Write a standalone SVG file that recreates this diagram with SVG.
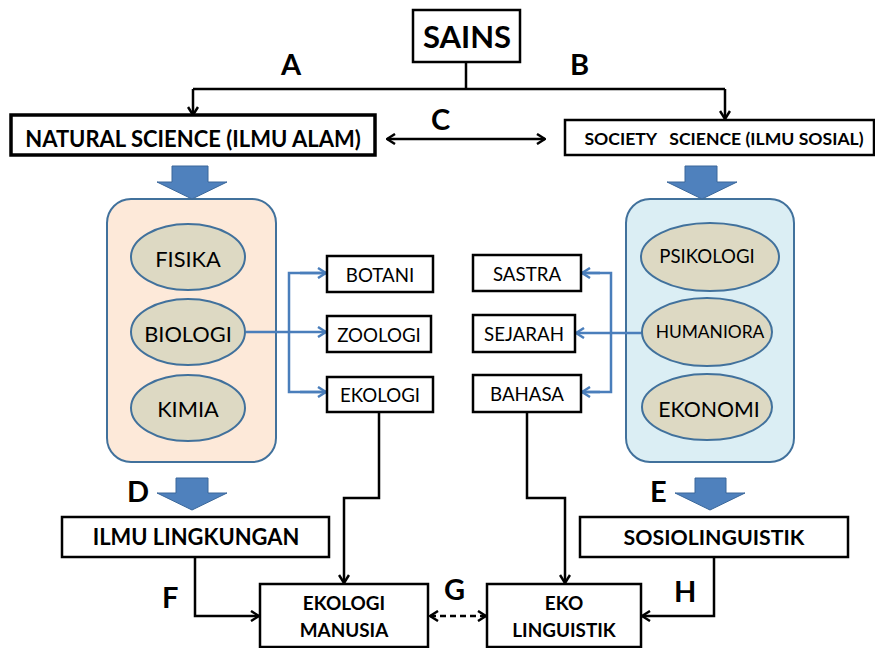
<svg xmlns="http://www.w3.org/2000/svg" width="875" height="648" viewBox="0 0 875 648">
  <style>
    .box { fill: #ffffff; stroke: #000000; stroke-width: 2.5; }
    .thick { stroke-width: 3.5; }
    .panel { stroke: #41719c; stroke-width: 2; }
    .oval { fill: #ddd9c3; stroke: #41719c; stroke-width: 2; }
    .blk { fill: #4f81bd; stroke: #3a679a; stroke-width: 1; }
    .t { font-family: Lato, "Liberation Sans", sans-serif; fill: #000000; text-anchor: middle; }
    .b { font-weight: bold; }
    .lbl { font-family: Lato, "Liberation Sans", sans-serif; font-weight: bold; font-size: 29px; fill: #000000; }
    .ln { fill: none; stroke: #000000; stroke-width: 2.5; }
    .bl { fill: none; stroke: #4a7ebb; stroke-width: 2.5; }
  </style>
  <defs>
    <marker id="ah" viewBox="0 0 10 12" refX="9" refY="6" markerWidth="10" markerHeight="12" markerUnits="userSpaceOnUse" orient="auto-start-reverse">
      <path d="M1,1 L9,6 L1,11" fill="none" stroke="#000000" stroke-width="2.5"/>
    </marker>
    <marker id="bh" viewBox="0 0 10 12" refX="9" refY="6" markerWidth="10" markerHeight="12" markerUnits="userSpaceOnUse" orient="auto">
      <path d="M1,1 L9,6 L1,11" fill="none" stroke="#4a7ebb" stroke-width="2.5"/>
    </marker>
  </defs>

  <!-- panels behind everything -->
  <g id="natural-panel">
    <rect class="panel" x="107" y="199" width="169" height="263" rx="24" fill="#fde9d9"/>
  </g>
  <g id="social-panel">
    <rect class="panel" x="626" y="199" width="168" height="263" rx="24" fill="#dbeef4"/>
  </g>

  <g id="connectors">
    <!-- SAINS split -->
    <path class="ln" d="M466,62 V89"/>
    <path class="ln" d="M193,89 H725" />
    <path class="ln" d="M193,89 V115" marker-end="url(#ah)"/>
    <path class="ln" d="M725,89 V119" marker-end="url(#ah)"/>
    <!-- C double arrow -->
    <path class="ln" d="M387,139 H545" marker-start="url(#ah)" marker-end="url(#ah)"/>
    <!-- biology branches -->
    <path class="bl" d="M246,332 H326" marker-end="url(#bh)"/>
    <path class="bl" d="M326,273 H289 V392 H326" />
    <path class="bl" d="M300,273 H326" marker-end="url(#bh)"/>
    <path class="bl" d="M300,392 H326" marker-end="url(#bh)"/>
    <!-- humaniora branches -->
    <path class="bl" d="M642,333 H576" marker-end="url(#bh)"/>
    <path class="bl" d="M582,273 H611 V392 H582" />
    <path class="bl" d="M600,273 H582" marker-end="url(#bh)"/>
    <path class="bl" d="M600,392 H582" marker-end="url(#bh)"/>
    <!-- ekologi to ekologi manusia -->
    <path class="ln" d="M379,412 V498 H344 V583" marker-end="url(#ah)"/>
    <!-- bahasa to eko linguistik -->
    <path class="ln" d="M527,412 V498 H565 V583" marker-end="url(#ah)"/>
    <!-- F and H -->
    <path class="ln" d="M195,557 V616 H259" marker-end="url(#ah)"/>
    <path class="ln" d="M714,557 V616 H642" marker-end="url(#ah)"/>
    <!-- G dashed double arrow -->
    <path class="ln" d="M430,616 H486" stroke-dasharray="6,4" marker-start="url(#ah)" marker-end="url(#ah)"/>
  </g>

  <g id="block-arrows">
    <path class="blk" d="M172,166 H208 V182 H227 L192,199 L157,182 H172 Z"/>
    <path class="blk" d="M685,166 H717 V182 H737 L702,199 L667,182 H685 Z"/>
    <path class="blk" d="M176,478 H208 V493 H227 L192,510 L157,493 H176 Z"/>
    <path class="blk" d="M695,478 H726 V493 H745 L710,510 L675,493 H695 Z"/>
  </g>

  <g id="sains">
    <rect class="box" x="413" y="10" width="107" height="52"/>
    <text class="t b" x="467" y="48" font-size="31">SAINS</text>
  </g>
  <g id="natural-science">
    <rect class="box thick" x="11" y="115" width="364" height="40"/>
    <text class="t b" x="193" y="147" font-size="22">NATURAL SCIENCE (ILMU ALAM)</text>
  </g>
  <g id="society-science">
    <rect class="box" x="565" y="120" width="309" height="35"/>
    <text class="t b" x="724" y="145" font-size="17.6" xml:space="preserve">SOCIETY   SCIENCE (ILMU SOSIAL)</text>
  </g>

  <g id="fisika">
    <ellipse class="oval" cx="188" cy="257" rx="57" ry="33"/>
    <text class="t" x="188" y="267" font-size="21.8">FISIKA</text>
  </g>
  <g id="biologi">
    <ellipse class="oval" cx="188" cy="332" rx="57" ry="33"/>
    <text class="t" x="188" y="342" font-size="21.8">BIOLOGI</text>
  </g>
  <g id="kimia">
    <ellipse class="oval" cx="188" cy="408" rx="57" ry="33"/>
    <text class="t" x="188" y="417" font-size="21.8">KIMIA</text>
  </g>

  <g id="psikologi">
    <ellipse class="oval" cx="710" cy="257" rx="69" ry="34"/>
    <text class="t" x="707" y="263" font-size="18.6">PSIKOLOGI</text>
  </g>
  <g id="humaniora">
    <ellipse class="oval" cx="707" cy="332" rx="65" ry="34"/>
    <text class="t" x="710" y="338" font-size="17.4">HUMANIORA</text>
  </g>
  <g id="ekonomi">
    <ellipse class="oval" cx="707" cy="407" rx="65" ry="33"/>
    <text class="t" x="709" y="417" font-size="21.3">EKONOMI</text>
  </g>

  <g id="botani">
    <rect class="box" x="327" y="256" width="106" height="36"/>
    <text class="t" x="380" y="282" font-size="18.7">BOTANI</text>
  </g>
  <g id="zoologi">
    <rect class="box" x="327" y="316" width="104" height="36"/>
    <text class="t" x="379" y="342" font-size="18.7">ZOOLOGI</text>
  </g>
  <g id="ekologi">
    <rect class="box" x="327" y="377" width="106" height="35"/>
    <text class="t" x="380" y="402" font-size="18.7">EKOLOGI</text>
  </g>

  <g id="sastra">
    <rect class="box" x="473" y="255" width="108" height="36"/>
    <text class="t" x="527" y="281" font-size="18.7">SASTRA</text>
  </g>
  <g id="sejarah">
    <rect class="box" x="473" y="315" width="102" height="37"/>
    <text class="t" x="524" y="341" font-size="18.7">SEJARAH</text>
  </g>
  <g id="bahasa">
    <rect class="box" x="473" y="375" width="108" height="37"/>
    <text class="t" x="527" y="401" font-size="18.7">BAHASA</text>
  </g>

  <g id="ilmu-lingkungan">
    <rect class="box" x="62" y="517" width="267" height="40"/>
    <text class="t b" x="196" y="545" font-size="21.9">ILMU LINGKUNGAN</text>
  </g>
  <g id="sosiolinguistik">
    <rect class="box" x="580" y="517" width="268" height="40"/>
    <text class="t b" x="714" y="545" font-size="21.3">SOSIOLINGUISTIK</text>
  </g>
  <g id="ekologi-manusia">
    <rect class="box" x="260" y="584" width="168" height="63"/>
    <text class="t b" x="344" y="610" font-size="18.9">EKOLOGI</text>
    <text class="t b" x="344" y="637" font-size="18.9">MANUSIA</text>
  </g>
  <g id="eko-linguistik">
    <rect class="box" x="487" y="584" width="154" height="63"/>
    <text class="t b" x="564" y="610" font-size="18.9">EKO</text>
    <text class="t b" x="564" y="637" font-size="18.9">LINGUISTIK</text>
  </g>

  <g id="labels">
    <text class="lbl" x="281" y="75">A</text>
    <text class="lbl" x="570" y="75">B</text>
    <text class="lbl" x="431" y="130">C</text>
    <text class="lbl" x="127" y="502">D</text>
    <text class="lbl" x="650" y="502">E</text>
    <text class="lbl" x="162" y="608">F</text>
    <text class="lbl" x="444" y="600">G</text>
    <text class="lbl" x="674" y="602">H</text>
  </g>
</svg>
